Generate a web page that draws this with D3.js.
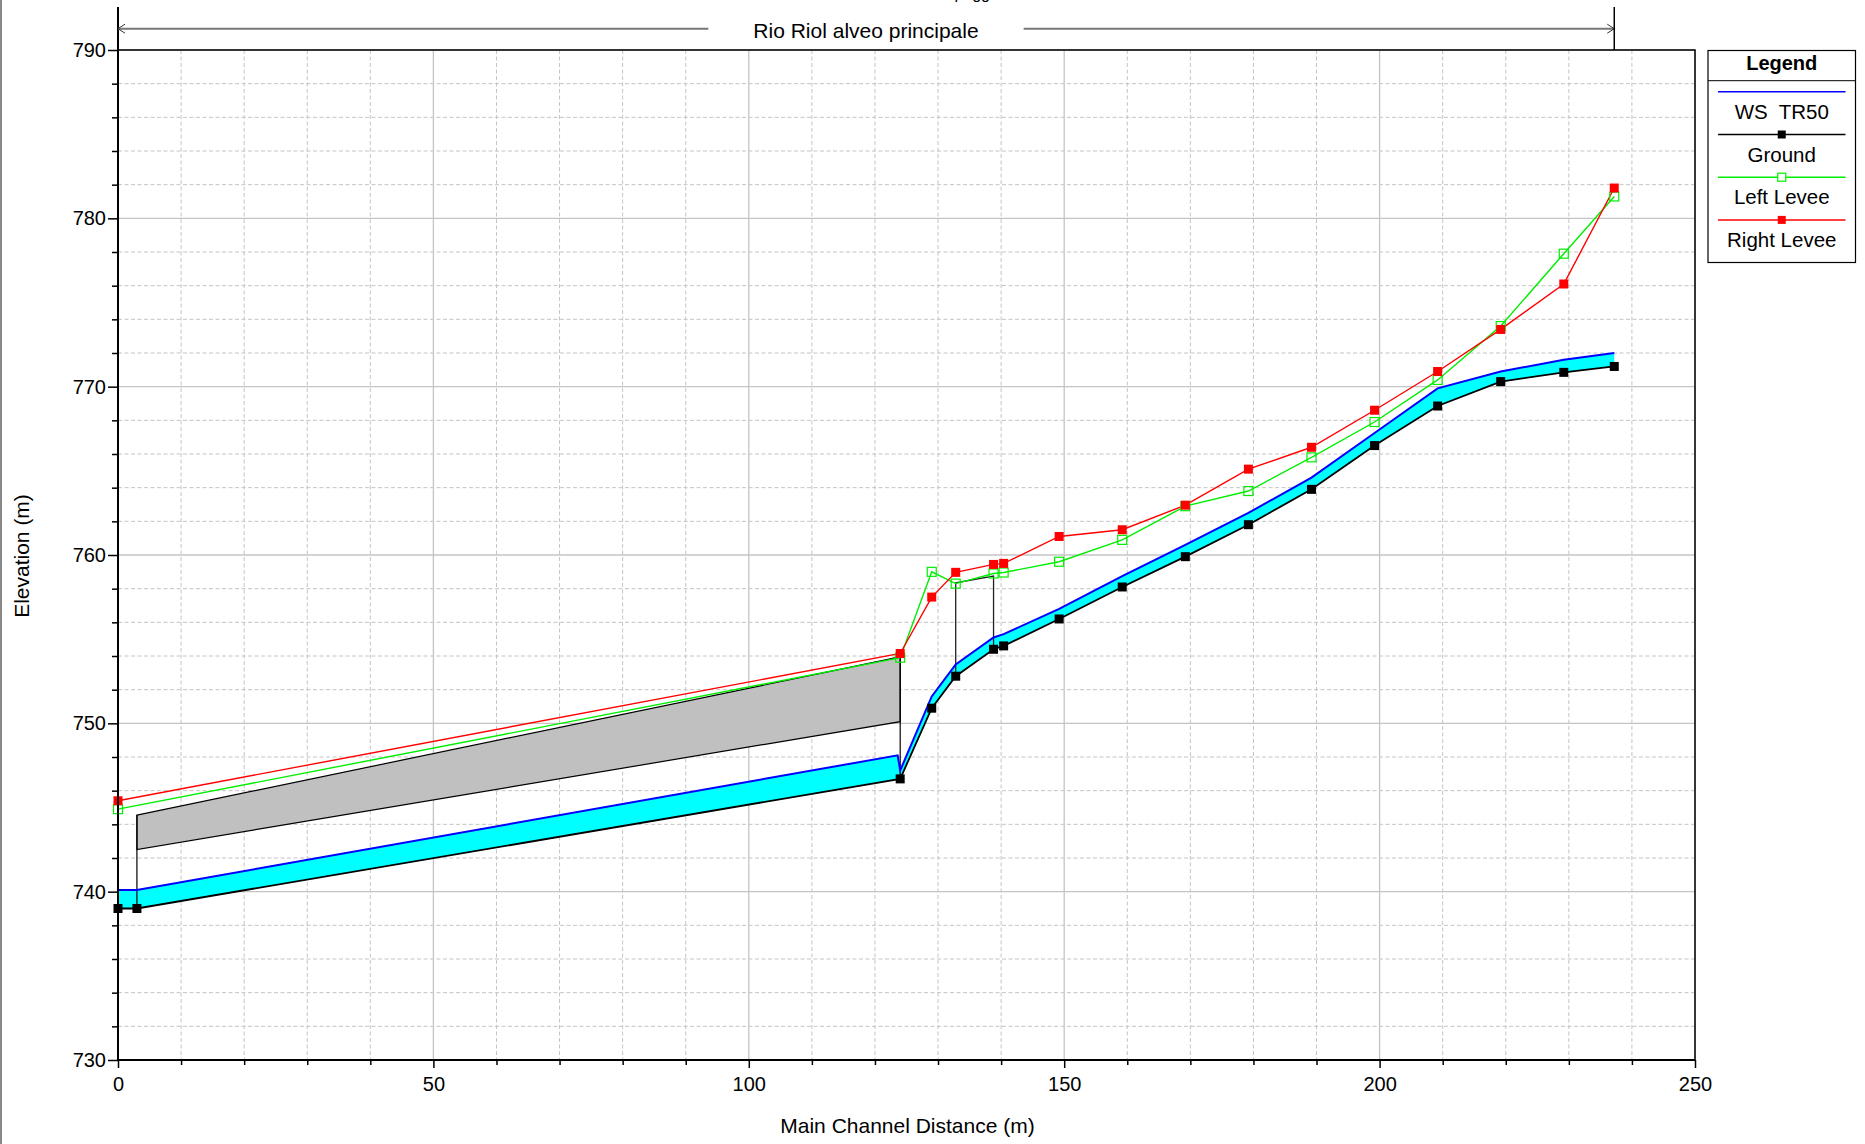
<!DOCTYPE html>
<html>
<head>
<meta charset="utf-8">
<script src="https://cdn.jsdelivr.net/npm/d3@7"></script>
<style>
	body { margin: 0; background: #fff; }
	svg { display: block; font-family: Arial, 'Liberation Sans', sans-serif; }
</style>
</head>
<body>
<svg id="profile-svg"></svg>
<script>
'use strict';

// stations along the main channel (m) and elevations (m)
var groundDist = [0, 3, 124, 129, 132.8, 138.8, 140.4, 149.2, 159.2, 169.2, 179.2, 189.2, 199.2, 209.2, 219.2, 229.2, 237.2];
var groundElev = [739.0, 739.0, 746.7, 750.9, 752.8, 754.4, 754.6, 756.2, 758.1, 759.9, 761.8, 763.9, 766.5, 768.85, 770.3, 770.85, 771.2];

var wsDist = [0, 3, 123.6, 124, 129, 132.8, 138.8, 140.4, 149.2, 159.2, 169.2, 179.2, 189.2, 199.2, 209.2, 219.2, 229.2, 237.2];
var wsElev = [740.1, 740.1, 748.1, 747.2, 751.6, 753.5, 755.1, 755.3, 756.8, 758.75, 760.6, 762.5, 764.6, 767.25, 769.9, 770.9, 771.6, 772.0];

var leveeDist = [0, 124, 129, 132.8, 138.8, 140.4, 149.2, 159.2, 169.2, 179.2, 189.2, 199.2, 209.2, 219.2, 229.2, 237.2];
var leftLevee = [744.9, 753.9, 759.0, 758.3, 758.9, 758.96, 759.6, 760.9, 762.9, 763.8, 765.8, 767.9, 770.4, 773.6, 777.9, 781.3];
var rightLevee = [745.4, 754.15, 757.5, 758.97, 759.44, 759.5, 761.1, 761.5, 762.96, 765.1, 766.4, 768.6, 770.9, 773.4, 776.1, 781.8];

// culvert deck (gray) and the thin bridge deck
var culvertDist = [3, 124];
var culvertTop = [744.55, 753.95];
var culvertBottom = [742.5, 750.1];
var bridgeDist = [132.8, 138.8];
var bridgeTop = [758.35, 758.75];

var xMajorTicks = [0, 50, 100, 150, 200, 250];
var yMajorTicks = [730, 740, 750, 760, 770, 780, 790];

var legendLabels = ['WS  TR50', 'Ground', 'Left Levee', 'Right Levee'];
var reachLabel = 'Rio Riol alveo principale';
var titleText = 'Plan: pagg';
var xTitle = 'Main Channel Distance (m)';
var yTitle = 'Elevation (m)';

var WIDTH = 1865,
	HEIGHT = 1144;

var plot = { left: 118, right: 1695, top: 50, bottom: 1060 };

var gridColor = '#c4c4c4',
	wsColor = '#0000ff',
	waterColor = '#00ffff',
	deckColor = '#c0c0c0',
	leftColor = '#00ee00',
	rightColor = '#ff0000';

var svg = d3.select('#profile-svg')
	.attr('width', WIDTH)
	.attr('height', HEIGHT);

svg.append('rect')
	.attr('width', WIDTH)
	.attr('height', HEIGHT)
	.style('fill', '#fff');

// thin frame on the left edge of the picture
svg.append('line')
	.attr('x1', 1).attr('x2', 1)
	.attr('y1', 0).attr('y2', HEIGHT)
	.style('stroke', '#888')
	.style('stroke-width', 2);

var x = d3.scaleLinear().domain([0, 250]).range([plot.left, plot.right]);
var y = d3.scaleLinear().domain([730, 790]).range([plot.bottom, plot.top]);

var xMinor = d3.range(0, 251, 10).filter(function (d) { return xMajorTicks.indexOf(d) < 0; });
var yMinor = d3.range(730, 791, 2).filter(function (d) { return yMajorTicks.indexOf(d) < 0; });

// grid
var grid = svg.append('g');

grid.selectAll('.vminor').data(xMinor).enter().append('line')
	.attr('x1', x).attr('x2', x)
	.attr('y1', plot.top).attr('y2', plot.bottom)
	.style('stroke', gridColor).style('stroke-dasharray', '4,2.5');

grid.selectAll('.hminor').data(yMinor).enter().append('line')
	.attr('y1', y).attr('y2', y)
	.attr('x1', plot.left).attr('x2', plot.right)
	.style('stroke', gridColor).style('stroke-dasharray', '4,2.5');

grid.selectAll('.vmajor').data(xMajorTicks).enter().append('line')
	.attr('x1', x).attr('x2', x)
	.attr('y1', plot.top).attr('y2', plot.bottom)
	.style('stroke', gridColor).style('stroke-width', 1.3);

grid.selectAll('.hmajor').data(yMajorTicks).enter().append('line')
	.attr('y1', y).attr('y2', y)
	.attr('x1', plot.left).attr('x2', plot.right)
	.style('stroke', gridColor).style('stroke-width', 1.3);

function zipPts(dist, elev) {
	return dist.map(function (d, i) { return [d, elev[i]]; });
}

var line = d3.line()
	.x(function (p) { return x(p[0]); })
	.y(function (p) { return y(p[1]); });

var groundPts = zipPts(groundDist, groundElev);
var wsPts = zipPts(wsDist, wsElev);

// water between ground and water surface
svg.append('path')
	.attr('d', line(wsPts.concat(groundPts.slice().reverse())) + 'Z')
	.style('fill', waterColor)
	.style('stroke', 'none');

// culvert deck
var deckPts = zipPts(culvertDist, culvertTop).concat(zipPts(culvertDist, culvertBottom).reverse());
svg.append('path')
	.attr('d', line(deckPts) + 'Z')
	.style('fill', deckColor)
	.style('stroke', '#000')
	.style('stroke-width', 1.2);

function groundAt(d) {
	var i = groundDist.indexOf(d);
	return i >= 0 ? groundElev[i] : null;
}

// culvert faces down to the ground
svg.selectAll('.culvert-face').data(culvertDist).enter().append('line')
	.attr('x1', x).attr('x2', x)
	.attr('y1', function (d, i) { return y(culvertTop[i]); })
	.attr('y2', function (d) { return y(groundAt(d)); })
	.style('stroke', '#000')
	.style('stroke-width', 1.2);

// bridge deck
var bridgePts = [[bridgeDist[0], groundAt(bridgeDist[0])]]
	.concat(zipPts(bridgeDist, bridgeTop))
	.concat([[bridgeDist[1], groundAt(bridgeDist[1])]]);
svg.append('path')
	.attr('d', line(bridgePts))
	.style('fill', 'none')
	.style('stroke', '#222')
	.style('stroke-width', 1.3);

// water surface
svg.append('path')
	.attr('d', line(wsPts))
	.style('fill', 'none')
	.style('stroke', wsColor)
	.style('stroke-width', 2);

// ground
svg.append('path')
	.attr('d', line(groundPts))
	.style('fill', 'none')
	.style('stroke', '#000')
	.style('stroke-width', 1.8);

var leftPts = zipPts(leveeDist, leftLevee);
var rightPts = zipPts(leveeDist, rightLevee);

svg.append('path')
	.attr('d', line(leftPts))
	.style('fill', 'none')
	.style('stroke', leftColor)
	.style('stroke-width', 1.4);

svg.append('path')
	.attr('d', line(rightPts))
	.style('fill', 'none')
	.style('stroke', rightColor)
	.style('stroke-width', 1.4);

var MARK = 9;

function squares(pts, fill, stroke) {
	svg.append('g').selectAll('rect').data(pts).enter().append('rect')
		.attr('x', function (p) { return x(p[0]) - MARK / 2; })
		.attr('y', function (p) { return y(p[1]) - MARK / 2; })
		.attr('width', MARK)
		.attr('height', MARK)
		.style('fill', fill)
		.style('stroke', stroke)
		.style('stroke-width', fill === 'none' ? 1.2 : 0);
}

squares(groundPts, '#000', 'none');
squares(leftPts, 'none', leftColor);
squares(rightPts, rightColor, 'none');

// frame
svg.append('rect')
	.attr('x', plot.left).attr('y', plot.top)
	.attr('width', plot.right - plot.left)
	.attr('height', plot.bottom - plot.top)
	.style('fill', 'none')
	.style('stroke', '#000')
	.style('stroke-width', 1.5);

svg.append('line')
	.attr('x1', plot.left).attr('x2', plot.left)
	.attr('y1', 7).attr('y2', plot.bottom)
	.style('stroke', '#000').style('stroke-width', 2);
svg.append('line')
	.attr('x1', plot.left).attr('x2', plot.right)
	.attr('y1', plot.bottom).attr('y2', plot.bottom)
	.style('stroke', '#000').style('stroke-width', 2.2);

// axes
function styleAxis(g) {
	g.select('.domain').remove();
	g.selectAll('.tick line').style('stroke', '#000').style('stroke-width', 1.5);
	g.selectAll('.tick text')
		.style('font-family', 'Arial, "Liberation Sans", sans-serif')
		.style('font-size', '20px')
		.style('fill', '#000');
}

svg.append('g')
	.attr('transform', 'translate(' + plot.left + ',0)')
	.call(d3.axisLeft(y).tickValues(yMinor).tickSize(6).tickFormat(''))
	.call(styleAxis);

svg.append('g')
	.attr('transform', 'translate(' + plot.left + ',0)')
	.call(d3.axisLeft(y).tickValues(yMajorTicks).tickSize(10).tickPadding(2).tickFormat(d3.format('d')))
	.call(styleAxis);

svg.append('g')
	.attr('transform', 'translate(0,' + plot.bottom + ')')
	.call(d3.axisBottom(x).tickValues(xMinor).tickSize(5).tickFormat(''))
	.call(styleAxis);

svg.append('g')
	.attr('transform', 'translate(0,' + plot.bottom + ')')
	.call(d3.axisBottom(x).tickValues(xMajorTicks).tickSize(8).tickPadding(9).tickFormat(d3.format('d')))
	.call(styleAxis);

svg.append('text')
	.attr('x', (plot.left + plot.right) / 2 + 1)
	.attr('y', 1133)
	.style('text-anchor', 'middle')
	.style('font-size', '21px')
	.text(xTitle);

svg.append('text')
	.attr('transform', 'translate(29,556) rotate(-90)')
	.style('text-anchor', 'middle')
	.style('font-size', '21px')
	.text(yTitle);

// title, cut by the top edge as in the source picture
svg.append('text')
	.attr('x', 990)
	.attr('y', -1)
	.style('text-anchor', 'end')
	.style('font-size', '16px')
	.text(titleText);

// reach annotation above the plot
var reachStart = x(groundDist[0]),
	reachEnd = x(groundDist[groundDist.length - 1]),
	reachY = 28.7;

var reachText = svg.append('text')
	.attr('x', 866)
	.attr('y', 37.5)
	.style('text-anchor', 'middle')
	.style('font-size', '21px')
	.text(reachLabel);

var bb = reachText.node().getBBox();

svg.append('line')
	.attr('x1', reachStart).attr('x2', bb.x - 45)
	.attr('y1', reachY).attr('y2', reachY)
	.style('stroke', '#777').style('stroke-width', 2);
svg.append('line')
	.attr('x1', bb.x + bb.width + 45).attr('x2', reachEnd)
	.attr('y1', reachY).attr('y2', reachY)
	.style('stroke', '#777').style('stroke-width', 2);

svg.append('path')
	.attr('d', 'M' + (reachStart + 7) + ',' + (reachY - 4.5) + 'L' + reachStart + ',' + reachY + 'L' + (reachStart + 7) + ',' + (reachY + 4.5))
	.style('fill', 'none').style('stroke', '#333').style('stroke-width', 1);
svg.append('path')
	.attr('d', 'M' + (reachEnd - 7) + ',' + (reachY - 4.5) + 'L' + reachEnd + ',' + reachY + 'L' + (reachEnd - 7) + ',' + (reachY + 4.5))
	.style('fill', 'none').style('stroke', '#333').style('stroke-width', 1);

svg.append('line')
	.attr('x1', reachEnd).attr('x2', reachEnd)
	.attr('y1', 7).attr('y2', plot.top)
	.style('stroke', '#000').style('stroke-width', 1.5);

// legend
var lg = svg.append('g');
var LX = 1708, LW = 147.5;

lg.append('rect')
	.attr('x', LX).attr('y', 50.5)
	.attr('width', LW).attr('height', 212)
	.style('fill', '#fff')
	.style('stroke', '#000')
	.style('stroke-width', 1.2);

lg.append('line')
	.attr('x1', LX).attr('x2', LX + LW)
	.attr('y1', 80.7).attr('y2', 80.7)
	.style('stroke', '#000').style('stroke-width', 1);

lg.append('text')
	.attr('x', LX + LW / 2).attr('y', 69.5)
	.style('text-anchor', 'middle')
	.style('font-size', '20px')
	.style('font-weight', 'bold')
	.text('Legend');

var legendColors = [wsColor, '#000', leftColor, rightColor];
var legendMarks = [null, 'fill', 'open', 'fill'];

legendLabels.forEach(function (label, i) {
	var ly = 91.8 + i * 42.7;
	var cx = LX + LW / 2;
	lg.append('line')
		.attr('x1', LX + 10).attr('x2', LX + LW - 10)
		.attr('y1', ly).attr('y2', ly)
		.style('stroke', legendColors[i])
		.style('stroke-width', 1.5);
	if (legendMarks[i]) {
		lg.append('rect')
			.attr('x', cx - 4).attr('y', ly - 4)
			.attr('width', 8).attr('height', 8)
			.style('fill', legendMarks[i] === 'fill' ? legendColors[i] : '#fff')
			.style('stroke', legendMarks[i] === 'open' ? legendColors[i] : 'none')
			.style('stroke-width', 1.2);
	}
	lg.append('text')
		.attr('x', cx).attr('y', ly + 27)
		.style('text-anchor', 'middle')
		.style('font-size', '20.5px')
		.style('white-space', 'pre')
		.text(label);
});
</script>
</body>
</html>
